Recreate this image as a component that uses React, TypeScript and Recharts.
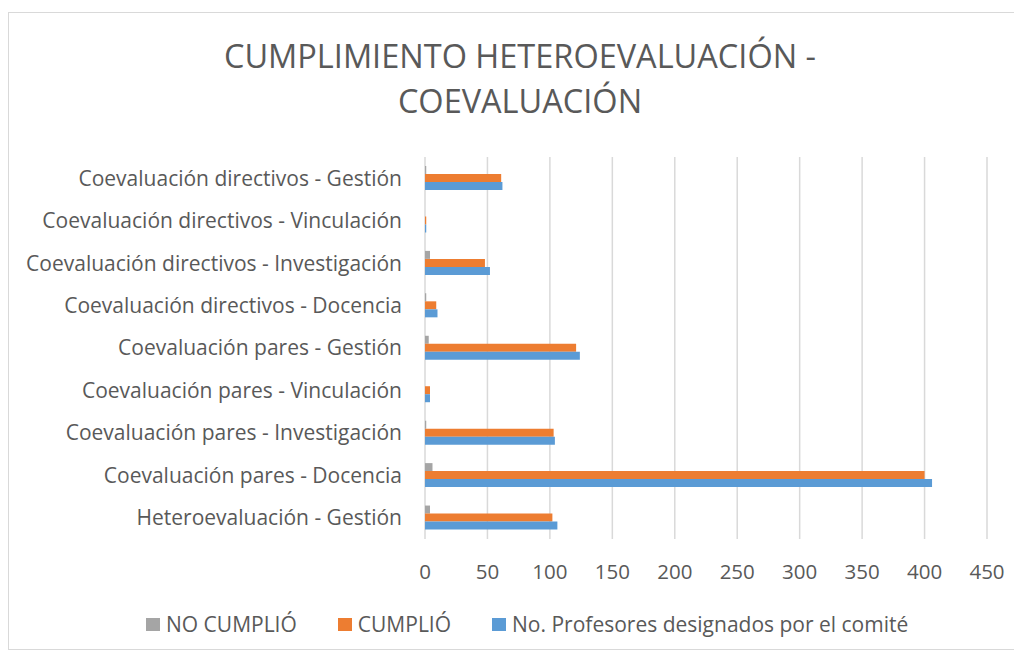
import React from "react";
import { BarChart, Bar, XAxis, YAxis, CartesianGrid } from "recharts";

const categories = [
  "Coevaluación directivos - Gestión",
  "Coevaluación directivos - Vinculación",
  "Coevaluación directivos - Investigación",
  "Coevaluación directivos - Docencia",
  "Coevaluación pares - Gestión",
  "Coevaluación pares - Vinculación",
  "Coevaluación pares - Investigación",
  "Coevaluación pares - Docencia",
  "Heteroevaluación - Gestión",
];
const noCumplio = [1, 0, 4, 1, 3, 0, 1, 6, 4];
const cumplio = [61, 1, 48, 9, 121, 4, 103, 400, 102];
const designados = [62, 1, 52, 10, 124, 4, 104, 406, 106];
const xTicks = [0, 50, 100, 150, 200, 250, 300, 350, 400, 450];

const seriesNames = ["NO CUMPLIÓ", "CUMPLIÓ", "No. Profesores designados por el comité"];
const seriesColors = ["#A5A5A5", "#ED7D31", "#5B9BD5"];

const data = categories.map((name, i) => ({
  name,
  noCumplio: noCumplio[i],
  cumplio: cumplio[i],
  designados: designados[i],
}));

const FONT = "'Open Sans', Lato, sans-serif";
const TEXT = "#595959";
const FS = 20.5;
const FS_LABEL = 21;

export default function App() {
  return (
    <div style={{ position: "relative", width: 1010, height: 642, background: "#fff" }}>
      <div
        style={{
          position: "absolute",
          left: 0,
          top: 4,
          width: 1008,
          height: 636,
          border: "1px solid #D9D9D9",
        }}
      />
      <div
        style={{
          position: "absolute",
          left: 0,
          top: 25,
          width: 1024,
          textAlign: "center",
          fontFamily: FONT,
          fontSize: 32.5,
          lineHeight: "45px",
          color: TEXT,
          fontWeight: 400,
        }}
      >
        CUMPLIMIENTO HETEROEVALUACIÓN -<br />COEVALUACIÓN
      </div>
      <div style={{ position: "absolute", left: 0, top: 0 }}>
        <BarChart
          width={1010}
          height={640}
          data={data}
          layout="vertical"
          margin={{ top: 149, right: 31, left: 0, bottom: 69 }}
          barGap={0}
          barSize={8}
        >
          <CartesianGrid horizontal={false} stroke="#D9D9D9" strokeWidth={1.5} />
          <XAxis
            type="number"
            domain={[0, 450]}
            ticks={xTicks}
            axisLine={false}
            tickLine={false}
            tickMargin={19}
            height={40}
            tick={{ fill: TEXT, fontSize: FS, fontFamily: FONT }}
          />
          <YAxis
            type="category"
            dataKey="name"
            width={417}
            axisLine={false}
            tickLine={false}
            tickMargin={17}
            interval={0}
            tick={{ fill: TEXT, fontSize: FS_LABEL, fontFamily: FONT }}
          />
          <Bar dataKey="noCumplio" name={seriesNames[0]} fill={seriesColors[0]} isAnimationActive={false} />
          <Bar dataKey="cumplio" name={seriesNames[1]} fill={seriesColors[1]} isAnimationActive={false} />
          <Bar dataKey="designados" name={seriesNames[2]} fill={seriesColors[2]} isAnimationActive={false} />
        </BarChart>
      </div>
      <div
        style={{
          position: "absolute",
          left: 138,
          top: 602,
          display: "flex",
          alignItems: "center",
          fontFamily: FONT,
          fontSize: FS_LABEL,
          color: TEXT,
          whiteSpace: "nowrap",
        }}
      >
        {seriesNames.map((n, i) => (
          <div key={n} style={{ display: "flex", alignItems: "center", marginRight: 41 }}>
            <span style={{ display: "inline-block", width: 14, height: 13, background: seriesColors[i], marginRight: 6 }} />
            <span>{n}</span>
          </div>
        ))}
      </div>
    </div>
  );
}
